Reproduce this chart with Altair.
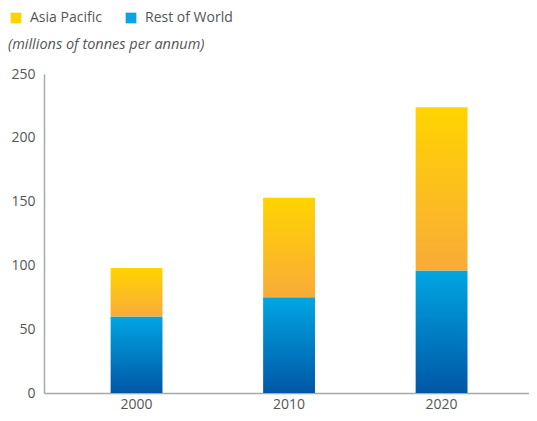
import altair as alt
import pandas as pd

years = ["2000", "2010", "2020"]
rest_of_world = [60, 75, 96]
asia_pacific = [38, 78, 128]
series = ["Asia Pacific", "Rest of World"]
series_colors = ["#ffd200", "#0aa3e3"]
subtitle = ["(millions of tonnes per annum)"]

df = pd.DataFrame({"year": years, "rest": rest_of_world, "asia": asia_pacific})
legend_df = pd.DataFrame({"series": series, "year": [years[0]] * 2, "v": [0, 0]})
sub_df = pd.DataFrame({"t": subtitle})

x_enc = alt.X("year:N", title=None,
              scale=alt.Scale(paddingInner=0.66, paddingOuter=0.42, align=0.52),
              axis=alt.Axis(labelAngle=0, ticks=False, labelPadding=4,
                            domainColor="#a8a8a8", domainWidth=1.5,
                            labelColor="#555555", labelFontSize=14))
y_scale = alt.Scale(domain=[0, 250])
y_axis = alt.Axis(values=[0, 50, 100, 150, 200, 250], ticks=False, grid=False,
                  labelPadding=9, domainColor="#a8a8a8", domainWidth=1.5,
                  labelColor="#555555", labelFontSize=14)

blue_grad = alt.Gradient(gradient="linear", x1=0, y1=1, x2=0, y2=0,
                         stops=[alt.GradientStop(color="#0057a6", offset=0),
                                alt.GradientStop(color="#00a6e2", offset=1)])
yellow_grad = alt.Gradient(gradient="linear", x1=0, y1=1, x2=0, y2=0,
                           stops=[alt.GradientStop(color="#f9ab38", offset=0),
                                  alt.GradientStop(color="#ffd400", offset=1)])

base = alt.Chart(df).transform_calculate(total="datum.rest + datum.asia")

blue = base.mark_bar(color=blue_grad).encode(
    x=x_enc,
    y=alt.Y("rest:Q", title=None, scale=y_scale, axis=y_axis),
)
yellow = base.mark_bar(color=yellow_grad).encode(
    x=x_enc,
    y=alt.Y("rest:Q", title=None, scale=y_scale, axis=y_axis),
    y2="total:Q",
)
legend_layer = alt.Chart(legend_df).mark_square(opacity=0).encode(
    x=x_enc,
    y=alt.Y("v:Q", title=None, scale=y_scale, axis=y_axis),
    color=alt.Color("series:N", scale=alt.Scale(domain=series, range=series_colors),
                    legend=alt.Legend(title=None, orient="none", direction="horizontal",
                                      legendX=-35, legendY=-63, symbolType="square",
                                      symbolSize=115, symbolOpacity=1, symbolStrokeWidth=0,
                                      labelFontSize=14, labelColor="#555555",
                                      columnPadding=22, labelOffset=7)),
)
sub_layer = alt.Chart(sub_df).mark_text(
    align="left", baseline="middle", fontStyle="italic", fontSize=14.5, color="#555555"
).encode(text="t:N", x=alt.value(-36), y=alt.value(-29))

chart = alt.layer(blue, yellow, legend_layer, sub_layer).properties(
    width=485, height=319,
    autosize=alt.AutoSizeParams(type="none"),
    padding={"left": 36, "top": 66, "right": 0, "bottom": 20},
).configure(font="Open Sans").configure_view(stroke=None)

chart.save("out.html", embed_options={"renderer": "svg", "actions": False})
